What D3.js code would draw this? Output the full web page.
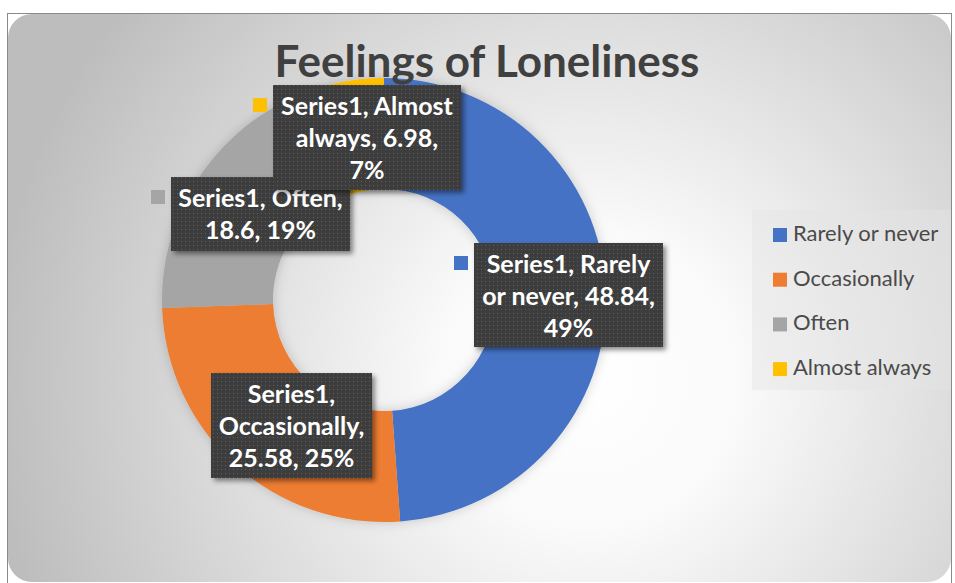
<!DOCTYPE html>
<html>
<head>
<meta charset="utf-8">
<script src="https://cdn.jsdelivr.net/npm/d3@7"></script>
<style>
  body { margin: 0; background: #fff; }
  svg { display: block; }
</style>
</head>
<body>
<div id="chart"></div>
<script>
// data
var categories = ["Rarely or never", "Occasionally", "Often", "Almost always"];
var values = [48.84, 25.58, 18.6, 6.98];
var percentLabels = ["49%", "25%", "19%", "7%"];
var seriesName = "Series1";
var titleText = "Feelings of Loneliness";
// words per line in each data label
var labelBreaks = [[2, 3, 1], [1, 1, 2], [2, 2], [2, 2, 1]];

var colors = ["#4472c4", "#ed7d31", "#a5a5a5", "#ffc000"];

var width = 955, height = 583;
var cx = 384, cy = 300, outerR = 222, innerR = 111;

// label boxes were dragged by hand in the original
var labelBoxes = [
  {x: 474, y: 243, w: 189, h: 104, key: true},
  {x: 211, y: 373, w: 161, h: 105, key: false},
  {x: 171, y: 177, w: 179, h: 74, key: true},
  {x: 273, y: 85, w: 188, h: 105, key: true}
];

var svg = d3.select("#chart").append("svg")
  .attr("width", width)
  .attr("height", height);

var defs = svg.append("defs");

var grad = defs.append("radialGradient")
  .attr("id", "bg")
  .attr("gradientUnits", "userSpaceOnUse")
  .attr("cx", 590).attr("cy", 380).attr("r", 600);
grad.append("stop").attr("offset", "0%").attr("stop-color", "#ffffff");
grad.append("stop").attr("offset", "25%").attr("stop-color", "#fafafa");
grad.append("stop").attr("offset", "100%").attr("stop-color", "#bdbdbd");

var dots = defs.append("pattern")
  .attr("id", "dots")
  .attr("patternUnits", "userSpaceOnUse")
  .attr("width", 4).attr("height", 4);
dots.append("rect").attr("width", 4).attr("height", 4).attr("fill", "#3c3c3c");
dots.append("rect").attr("x", 1).attr("y", 1).attr("width", 1).attr("height", 1).attr("fill", "#5e5e5e");

var ringShadow = defs.append("filter").attr("id", "ringShadow")
  .attr("x", "-20%").attr("y", "-20%").attr("width", "140%").attr("height", "140%");
ringShadow.append("feDropShadow")
  .attr("dx", 0).attr("dy", 0).attr("stdDeviation", 6)
  .attr("flood-color", "#000").attr("flood-opacity", 0.18);

var boxShadow = defs.append("filter").attr("id", "boxShadow")
  .attr("x", "-20%").attr("y", "-20%").attr("width", "140%").attr("height", "140%");
boxShadow.append("feDropShadow")
  .attr("dx", 3).attr("dy", 3).attr("stdDeviation", 2.5)
  .attr("flood-color", "#000").attr("flood-opacity", 0.45);

// frame + background
svg.append("rect")
  .attr("x", 7.5).attr("y", 13.5)
  .attr("width", 944).attr("height", 575)
  .attr("fill", "#fff")
  .attr("stroke", "#8a8a8a").attr("stroke-width", 1);
svg.append("rect")
  .attr("x", 8).attr("y", 14)
  .attr("width", 943).attr("height", 568)
  .attr("rx", 24).attr("ry", 24)
  .attr("fill", "url(#bg)");

// donut
var pie = d3.pie().sort(null).value(d => d)
  .startAngle(0).endAngle(2 * Math.PI);
var arc = d3.arc().innerRadius(innerR).outerRadius(outerR);
var arcs = pie(values);

svg.append("g")
  .attr("transform", "translate(" + cx + "," + cy + ")")
  .attr("filter", "url(#ringShadow)")
  .selectAll("path")
  .data(arcs)
  .enter()
  .append("path")
  .attr("d", arc)
  .attr("fill", (d, i) => colors[i]);

// title
svg.append("text")
  .attr("x", 487).attr("y", 77)
  .attr("text-anchor", "middle")
  .style("font-family", "Lato, 'Open Sans', sans-serif")
  .style("font-weight", "bold")
  .style("font-size", "44px")
  .attr("fill", "#404040")
  .text(titleText);

// data labels
var labels = svg.append("g").selectAll("g")
  .data(categories)
  .enter()
  .append("g");

labels.append("rect")
  .attr("x", (d, i) => labelBoxes[i].x)
  .attr("y", (d, i) => labelBoxes[i].y)
  .attr("width", (d, i) => labelBoxes[i].w)
  .attr("height", (d, i) => labelBoxes[i].h)
  .attr("fill", "url(#dots)")
  .attr("filter", "url(#boxShadow)");

labels.filter((d, i) => labelBoxes[i].key)
  .append("rect")
  .attr("x", d => labelBoxes[categories.indexOf(d)].x - 20)
  .attr("y", d => labelBoxes[categories.indexOf(d)].y + 13)
  .attr("width", 14).attr("height", 14)
  .attr("fill", d => colors[categories.indexOf(d)]);

labels.each(function(d, i) {
  var words = (seriesName + ", " + d + ", " + values[i] + ", " + percentLabels[i]).split(" ");
  var lines = [], k = 0;
  labelBreaks[i].forEach(function(n) {
    lines.push(words.slice(k, k + n).join(" "));
    k += n;
  });
  var b = labelBoxes[i];
  var t = d3.select(this).append("text")
    .attr("text-anchor", "middle")
    .style("font-family", "Lato, 'Open Sans', sans-serif")
    .style("font-weight", "bold")
    .style("font-size", "25px")
    .attr("fill", "#ffffff");
  lines.forEach(function(line, j) {
    t.append("tspan")
      .attr("x", b.x + b.w / 2)
      .attr("y", b.y + 30 + j * 32)
      .text(line);
  });
});

// legend
svg.append("rect")
  .attr("x", 752).attr("y", 210)
  .attr("width", 199).attr("height", 180)
  .attr("fill", "#e4e4e4").attr("fill-opacity", 0.45);

var legend = svg.append("g").selectAll("g")
  .data(categories)
  .enter()
  .append("g")
  .attr("transform", (d, i) => "translate(773," + (228 + i * 44.7) + ")");
legend.append("rect")
  .attr("width", 14).attr("height", 14)
  .attr("fill", (d, i) => colors[i]);
legend.append("text")
  .attr("x", 20).attr("y", 13)
  .style("font-family", "Lato, 'Open Sans', sans-serif")
  .style("font-size", "22px")
  .attr("fill", "#4a4a4a")
  .text(d => d);
</script>
</body>
</html>
